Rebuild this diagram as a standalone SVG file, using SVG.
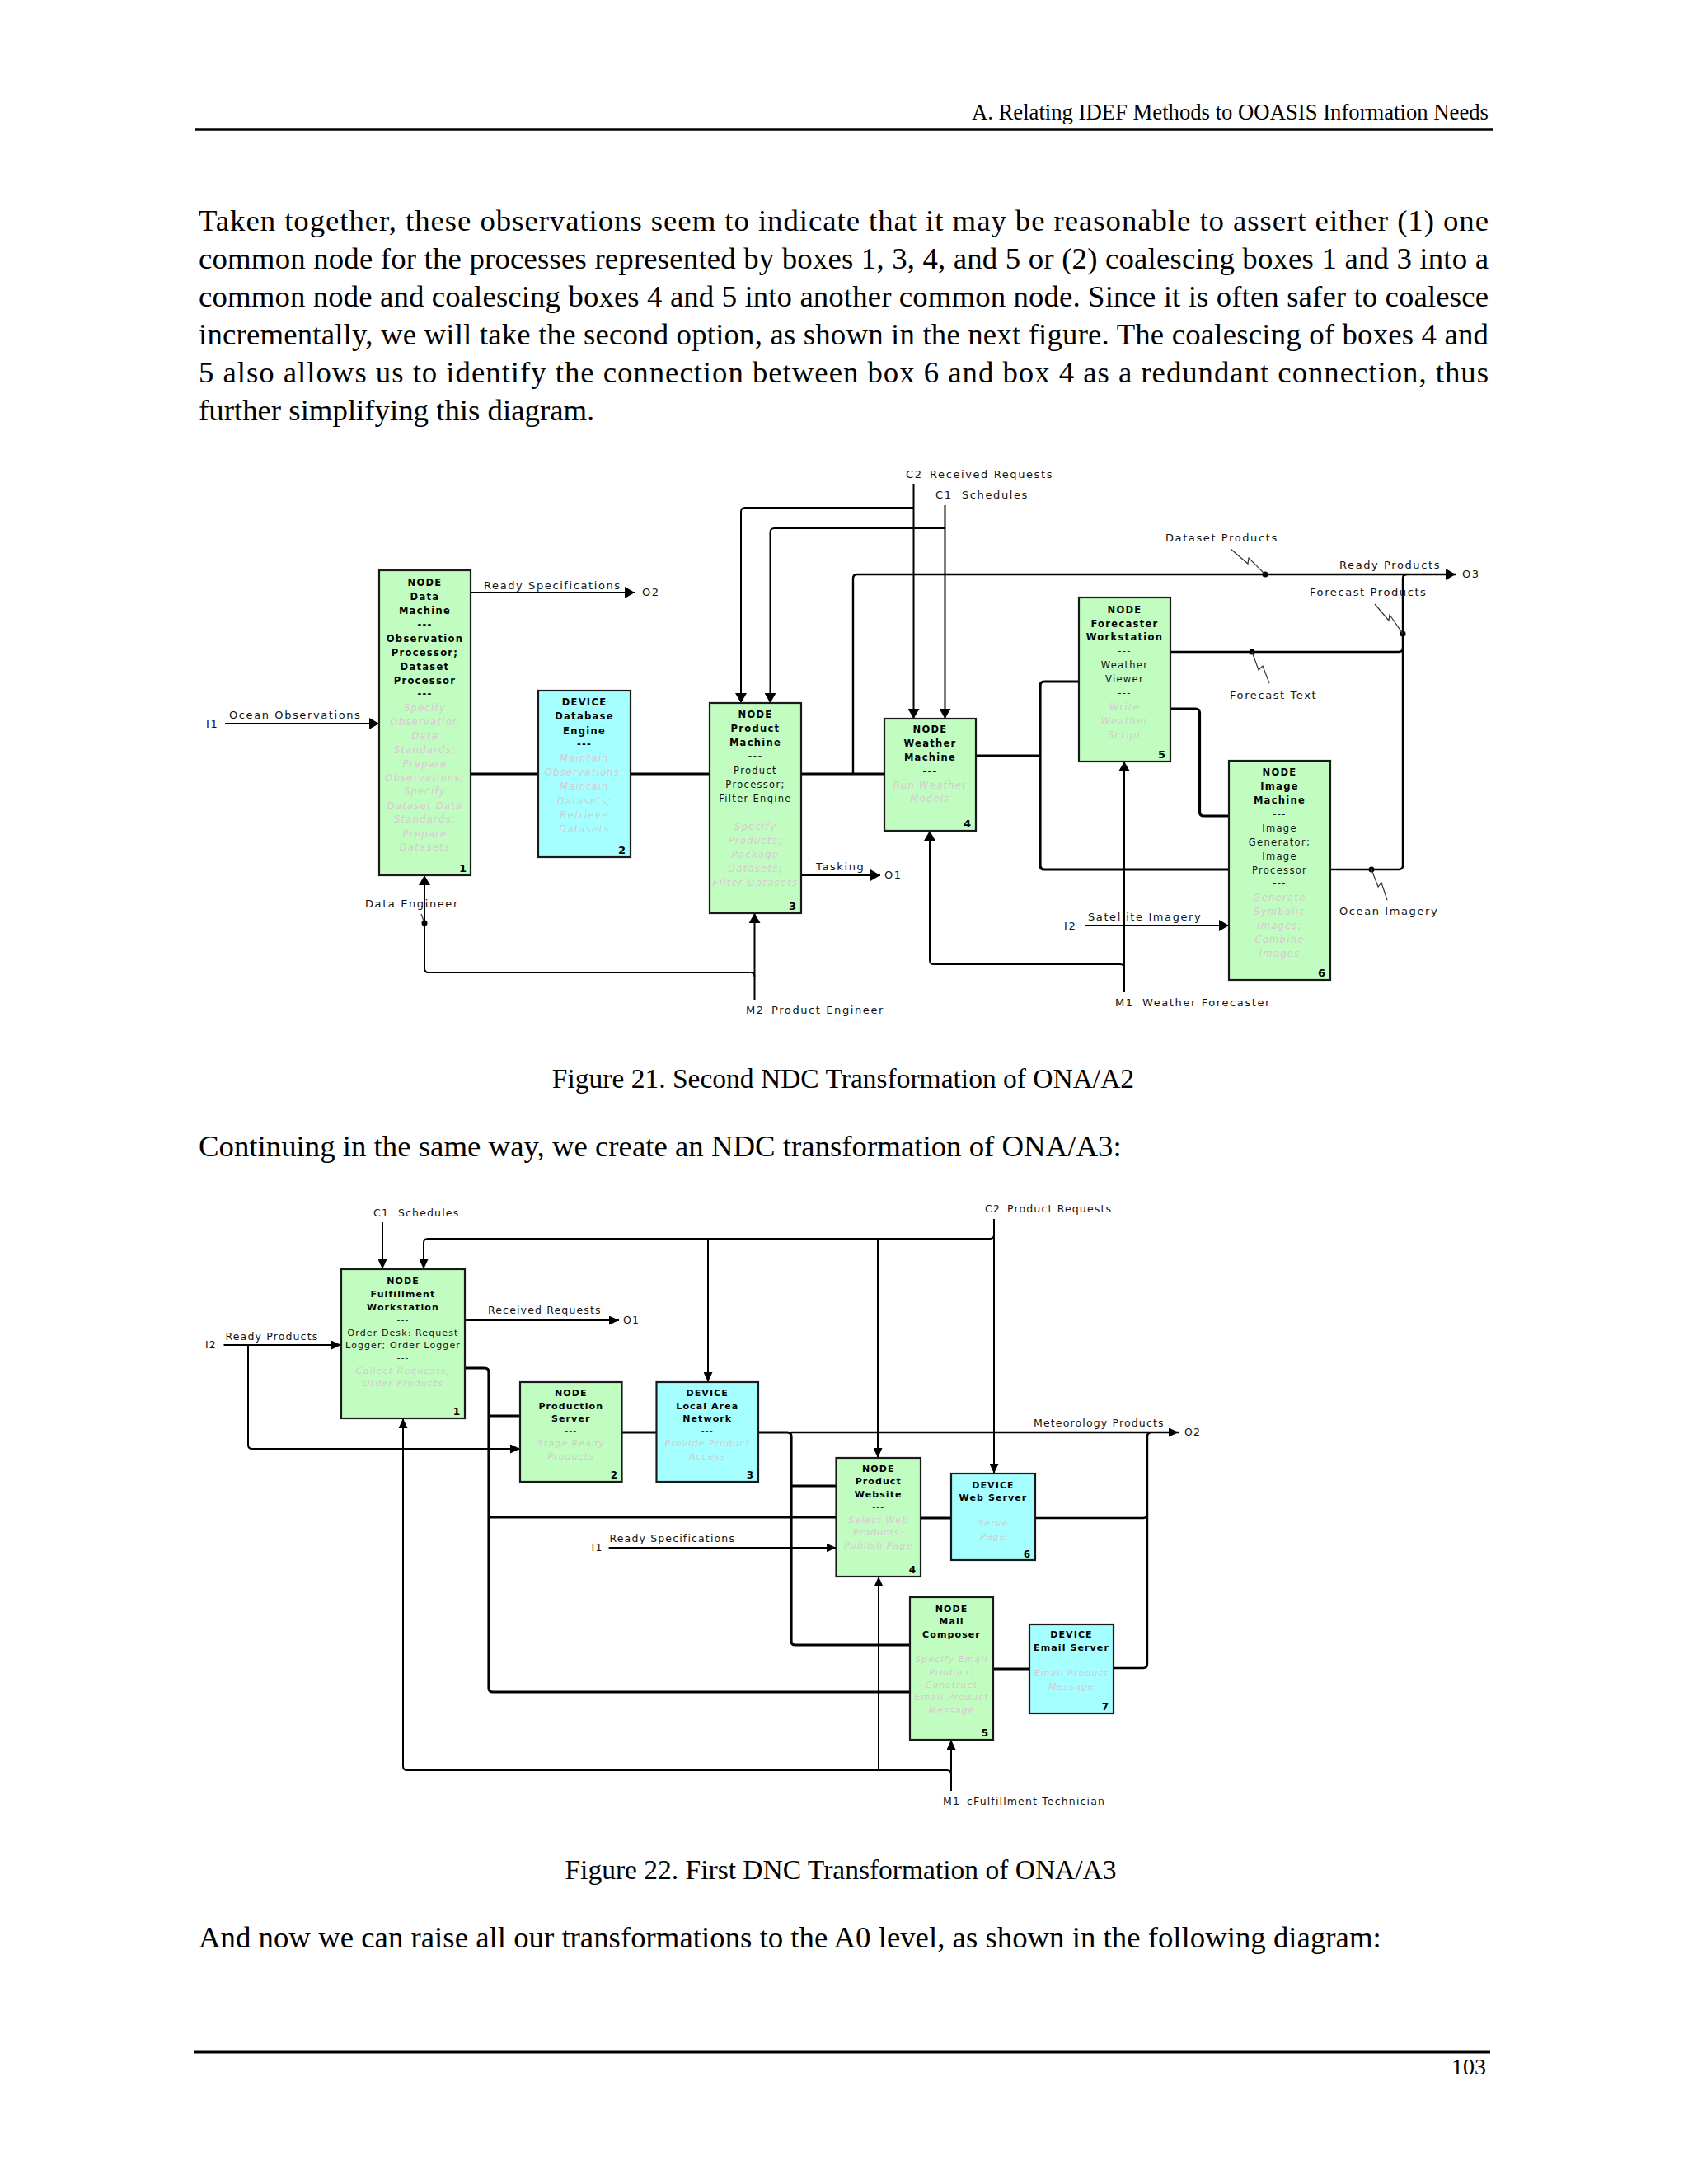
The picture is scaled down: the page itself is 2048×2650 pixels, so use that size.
<svg xmlns="http://www.w3.org/2000/svg" width="2048" height="2650" viewBox="0 0 2048 2650">
<defs>
<marker id="ah" viewBox="0 0 12 14" refX="12" refY="7" markerWidth="12" markerHeight="14" markerUnits="userSpaceOnUse" orient="auto"><path d="M0,0 L12,7 L0,14 z" fill="#000"/></marker>
<marker id="ah2" viewBox="0 0 12 11" refX="12" refY="5.5" markerWidth="12" markerHeight="11" markerUnits="userSpaceOnUse" orient="auto"><path d="M0,0 L12,5.5 L0,11 z" fill="#000"/></marker>
</defs>
<style>
.pg{font-family:"Liberation Serif","Times New Roman",serif;fill:#000}
.body{font-size:36.8px}
.hdr{font-size:26.7px}
.cap{font-size:33.5px;text-anchor:middle}
.rule{stroke:#000;stroke-width:3.5}
.box{stroke:#1a1a1a;stroke-width:2.2}
.node{fill:#c1fdc1}
.dev{fill:#a6ffff}
.t{font-family:"DejaVu Sans",Verdana,sans-serif;text-anchor:middle}
.n21{font-size:11.5px;letter-spacing:1.3px}
.n22{font-size:11px;letter-spacing:1.1px}
.b{font-weight:bold;fill:#000}
.r{fill:#111}
.f{fill:#d8c8d2;font-style:italic}
.num{font-family:"DejaVu Sans",Verdana,sans-serif;font-weight:bold;font-size:13px;text-anchor:end;fill:#000}
.lbl{font-family:"DejaVu Sans",Verdana,sans-serif;font-size:13px;letter-spacing:1.6px;fill:#111}
.lbl2{font-family:"DejaVu Sans",Verdana,sans-serif;font-size:12.5px;letter-spacing:1.15px;fill:#111}
.c{fill:none;stroke:#000;stroke-width:2}
.cm{fill:none;stroke:#000;stroke-width:2.4}
.ck{fill:none;stroke:#000;stroke-width:3.2}
.a{marker-end:url(#ah)}
.a2{marker-end:url(#ah2)}
.sq{fill:none;stroke:#333;stroke-width:1.2}
.dot{fill:#000}
</style>
<rect width="2048" height="2650" fill="#fff"/>

<g id="page">
<text class="pg hdr" x="1806" y="145" text-anchor="end">A. Relating IDEF Methods to OOASIS Information Needs</text>
<line class="rule" x1="236" y1="157" x2="1812" y2="157"/>
<text class="pg body" x="241" y="280" textLength="1565" lengthAdjust="spacing">Taken together, these observations seem to indicate that it may be reasonable to assert either (1) one</text>
<text class="pg body" x="241" y="326" textLength="1565" lengthAdjust="spacing">common node for the processes represented by boxes 1, 3, 4, and 5 or (2) coalescing boxes 1 and 3 into a</text>
<text class="pg body" x="241" y="372" textLength="1565" lengthAdjust="spacing">common node and coalescing boxes 4 and 5 into another common node. Since it is often safer to coalesce</text>
<text class="pg body" x="241" y="418" textLength="1565" lengthAdjust="spacing">incrementally, we will take the second option, as shown in the next figure. The coalescing of boxes 4 and</text>
<text class="pg body" x="241" y="464" textLength="1565" lengthAdjust="spacing">5 also allows us to identify the connection between box 6 and box 4 as a redundant connection, thus</text>
<text class="pg body" x="241" y="510">further simplifying this diagram.</text>
<text class="pg cap" x="1023" y="1320">Figure 21. Second NDC Transformation of ONA/A2</text>
<text class="pg body" x="241" y="1403">Continuing in the same way, we create an NDC transformation of ONA/A3:</text>
<text class="pg cap" x="1020" y="2280">Figure 22. First DNC Transformation of ONA/A3</text>
<text class="pg body" x="241" y="2363">And now we can raise all our transformations to the A0 level, as shown in the following diagram:</text>
<line class="rule" x1="235" y1="2490" x2="1808" y2="2490" style="stroke-width:3"/>
<text class="pg hdr" x="1803" y="2517" text-anchor="end" style="font-size:28px">103</text>
</g>

<!-- ================= FIGURE 21 ================= -->
<g id="fig21-connectors">
<path class="c a" d="M273,878 H460"/>
<path class="c a" d="M571,719 H770"/>
<path class="c a" d="M1108.5,587 V872"/>
<path class="c a" d="M1108.5,616 H904 Q899,616 899,621 V853"/>
<path class="c a" d="M1146.5,613 V872"/>
<path class="c a" d="M1146.5,641 H939.5 Q934.5,641 934.5,646 V853"/>
<path class="c a" d="M972,1062 H1068"/>
<path class="c a" d="M915.5,1213 V1108"/>
<path class="c a" d="M910.5,1180 H520 Q515,1180 515,1175 V1062"/>
<path class="c" d="M915.5,1185 Q915.5,1180 910.5,1180"/>
<path class="c a" d="M1364,1204 V924"/>
<path class="c a" d="M1359,1170 H1133 Q1128,1170 1128,1165 V1008"/>
<path class="c" d="M1364,1175 Q1364,1170 1359,1170"/>
<path class="c a" d="M1317,1123 H1491"/>
<path class="cm a" d="M1035,939 V702 Q1035,697 1040,697 H1766"/>
<path class="cm" d="M1614,1055 H1697 Q1702,1055 1702,1050 V702 Q1702,697 1707,697"/>
<path class="cm" d="M1420,791 H1697 Q1702,791 1702,786"/>
<path class="ck" d="M571,939 H653 M765,939 H861 M972,939 H1073"/>
<path class="ck" d="M1184,917 H1262 M1262,917 V832 Q1262,827 1267,827 H1309 M1262,917 V1050 Q1262,1055 1267,1055 H1491"/>
<path class="ck" d="M1420,860 H1450.5 Q1455.5,860 1455.5,865 V985 Q1455.5,990 1460.5,990 H1491"/>
<circle class="dot" cx="1535" cy="697" r="3.5"/>
<circle class="dot" cx="1702" cy="769" r="3.5"/>
<circle class="dot" cx="1519" cy="791" r="3.5"/>
<circle class="dot" cx="1664" cy="1055" r="3.5"/>
<circle class="dot" cx="515" cy="1120" r="3.5"/>
<path class="sq" d="M1493,666 L1514,684 L1515,677 L1535,697"/>
<path class="sq" d="M1668,733 L1685,753 L1686,746 L1702,769"/>
<path class="sq" d="M1519,791 L1527,813 L1532,808 L1540,829"/>
<path class="sq" d="M1664,1055 L1672,1076 L1676,1071 L1683,1092"/>
<path class="sq" d="M511,1109 L515,1120"/>
</g>

<g id="fig21-labels">
<text class="lbl" x="1099" y="580">C2</text>
<text class="lbl" x="1128" y="580">Received Requests</text>
<text class="lbl" x="1135" y="605">C1</text>
<text class="lbl" x="1167" y="605">Schedules</text>
<text class="lbl" x="1414" y="657">Dataset Products</text>
<text class="lbl" x="1625" y="690">Ready Products</text>
<text class="lbl" x="1774" y="701">O3</text>
<text class="lbl" x="1589" y="723">Forecast Products</text>
<text class="lbl" x="587" y="715">Ready Specifications</text>
<text class="lbl" x="779" y="723">O2</text>
<text class="lbl" x="1492" y="848">Forecast Text</text>
<text class="lbl" x="250" y="883">I1</text>
<text class="lbl" x="278" y="872">Ocean Observations</text>
<text class="lbl" x="990" y="1056">Tasking</text>
<text class="lbl" x="1073" y="1066">O1</text>
<text class="lbl" x="443" y="1101">Data Engineer</text>
<text class="lbl" x="1625" y="1110">Ocean Imagery</text>
<text class="lbl" x="1320" y="1117">Satellite Imagery</text>
<text class="lbl" x="1291" y="1128">I2</text>
<text class="lbl" x="905" y="1230">M2</text>
<text class="lbl" x="936" y="1230">Product Engineer</text>
<text class="lbl" x="1353" y="1221">M1</text>
<text class="lbl" x="1386" y="1221">Weather Forecaster</text>
</g>

<g id="f21-box1">
<rect class="box node" x="460" y="692" width="111" height="370"/>
<g class="t n21">
<text class="b" x="515.5" y="711">NODE</text>
<text class="b" x="515.5" y="728">Data</text>
<text class="b" x="515.5" y="745">Machine</text>
<text class="b" x="515.5" y="762">---</text>
<text class="b" x="515.5" y="779">Observation</text>
<text class="b" x="515.5" y="796">Processor;</text>
<text class="b" x="515.5" y="813">Dataset</text>
<text class="b" x="515.5" y="830">Processor</text>
<text class="b" x="515.5" y="846">---</text>
<text class="f" x="515.5" y="863">Specify</text>
<text class="f" x="515.5" y="880">Observation</text>
<text class="f" x="515.5" y="897">Data</text>
<text class="f" x="515.5" y="914">Standards;</text>
<text class="f" x="515.5" y="931">Prepare</text>
<text class="f" x="515.5" y="948">Observations;</text>
<text class="f" x="515.5" y="964">Specify</text>
<text class="f" x="515.5" y="982">Dataset Data</text>
<text class="f" x="515.5" y="998">Standards;</text>
<text class="f" x="515.5" y="1016">Prepare</text>
<text class="f" x="515.5" y="1032">Datasets</text>
</g>
<text class="num" x="566" y="1058">1</text>
</g>

<g id="f21-box2">
<rect class="box dev" x="653" y="838" width="112" height="202"/>
<g class="t n21">
<text class="b" x="709" y="856">DEVICE</text>
<text class="b" x="709" y="873">Database</text>
<text class="b" x="709" y="891">Engine</text>
<text class="b" x="709" y="907">---</text>
<text class="f" x="709" y="924">Maintain</text>
<text class="f" x="709" y="941">Observations;</text>
<text class="f" x="709" y="958">Maintain</text>
<text class="f" x="709" y="976">Datasets;</text>
<text class="f" x="709" y="993">Retrieve</text>
<text class="f" x="709" y="1010">Datasets</text>
</g>
<text class="num" x="759" y="1036">2</text>
</g>

<g id="f21-box3">
<rect class="box node" x="861" y="853" width="111" height="255"/>
<g class="t n21">
<text class="b" x="916.5" y="871">NODE</text>
<text class="b" x="916.5" y="888">Product</text>
<text class="b" x="916.5" y="905">Machine</text>
<text class="b" x="916.5" y="922">---</text>
<text class="r" x="916.5" y="939">Product</text>
<text class="r" x="916.5" y="956">Processor;</text>
<text class="r" x="916.5" y="973">Filter Engine</text>
<text class="r" x="916.5" y="990">---</text>
<text class="f" x="916.5" y="1007">Specify</text>
<text class="f" x="916.5" y="1024">Products;</text>
<text class="f" x="916.5" y="1041">Package</text>
<text class="f" x="916.5" y="1058">Datasets;</text>
<text class="f" x="916.5" y="1075">Filter Datasets</text>
</g>
<text class="num" x="966" y="1104">3</text>
</g>

<g id="f21-box4">
<rect class="box node" x="1073" y="872" width="111" height="136"/>
<g class="t n21">
<text class="b" x="1128.5" y="889">NODE</text>
<text class="b" x="1128.5" y="906">Weather</text>
<text class="b" x="1128.5" y="923">Machine</text>
<text class="b" x="1128.5" y="940">---</text>
<text class="f" x="1128.5" y="957">Run Weather</text>
<text class="f" x="1128.5" y="973">Models</text>
</g>
<text class="num" x="1178" y="1004">4</text>
</g>

<g id="f21-box5">
<rect class="box node" x="1309" y="725" width="111" height="199"/>
<g class="t n21">
<text class="b" x="1364.5" y="744">NODE</text>
<text class="b" x="1364.5" y="761">Forecaster</text>
<text class="b" x="1364.5" y="777">Workstation</text>
<text class="r" x="1364.5" y="794">---</text>
<text class="r" x="1364.5" y="811">Weather</text>
<text class="r" x="1364.5" y="828">Viewer</text>
<text class="r" x="1364.5" y="845">---</text>
<text class="f" x="1364.5" y="862">Write</text>
<text class="f" x="1364.5" y="879">Weather</text>
<text class="f" x="1364.5" y="896">Script</text>
</g>
<text class="num" x="1414" y="920">5</text>
</g>

<g id="f21-box6">
<rect class="box node" x="1491" y="923" width="123" height="266"/>
<g class="t n21">
<text class="b" x="1552.5" y="941">NODE</text>
<text class="b" x="1552.5" y="958">Image</text>
<text class="b" x="1552.5" y="975">Machine</text>
<text class="r" x="1552.5" y="992">---</text>
<text class="r" x="1552.5" y="1009">Image</text>
<text class="r" x="1552.5" y="1026">Generator;</text>
<text class="r" x="1552.5" y="1043">Image</text>
<text class="r" x="1552.5" y="1060">Processor</text>
<text class="r" x="1552.5" y="1076">---</text>
<text class="f" x="1552.5" y="1093">Generate</text>
<text class="f" x="1552.5" y="1110">Symbolic</text>
<text class="f" x="1552.5" y="1127">Images;</text>
<text class="f" x="1552.5" y="1144">Combine</text>
<text class="f" x="1552.5" y="1161">Images</text>
</g>
<text class="num" x="1608" y="1185">6</text>
</g>

<!-- ================= FIGURE 22 ================= -->
<g id="fig22-connectors">
<path class="c a2" d="M464,1483 V1540"/>
<path class="c a2" d="M1206,1479 V1788"/>
<path class="c a2" d="M1206,1498 Q1206,1503 1201,1503 H519 Q514,1503 514,1508 V1540"/>
<path class="c a2" d="M859,1503 V1677"/>
<path class="c a2" d="M1065,1503 V1769"/>
<path class="c a2" d="M564,1602 H751"/>
<path class="c a2" d="M271.5,1632 H414"/>
<path class="c a2" d="M301,1632 V1753 Q301,1758 306,1758 H631"/>
<path class="c a2" d="M738.6,1878 H1014.5"/>
<path class="c a2" d="M1154,2173 V2111"/>
<path class="c a2" d="M1154,2153 Q1154,2148 1149,2148 H494 Q489,2148 489,2143 V1721"/>
<path class="c a2" d="M1066,2148 V1913"/>
<path class="cm a2" d="M960,1738 H1430"/>
<path class="cm" d="M1257,1842 H1387 Q1392,1842 1392,1837"/>
<path class="cm" d="M1351,2024 H1387 Q1392,2024 1392,2019 V1743 Q1392,1738 1397,1738"/>
<path class="ck" d="M564,1660 H588 Q593,1660 593,1665 V2048 Q593,2053 598,2053 H1104 M593,1718 H631 M593,1841 H1014.5"/>
<path class="ck" d="M754.5,1738 H796.5"/>
<path class="ck" d="M920,1738 H955 Q960,1738 960,1743 V1991 Q960,1996 965,1996 H1104 M960,1803 H1014.5"/>
<path class="ck" d="M1117,1842 H1154"/>
<path class="ck" d="M1205,2025 H1249"/>
</g>

<g id="fig22-labels">
<text class="lbl2" x="453" y="1476">C1</text>
<text class="lbl2" x="483" y="1476">Schedules</text>
<text class="lbl2" x="1195" y="1471">C2</text>
<text class="lbl2" x="1222" y="1471">Product Requests</text>
<text class="lbl2" x="592" y="1594">Received Requests</text>
<text class="lbl2" x="756" y="1606">O1</text>
<text class="lbl2" x="249" y="1636">I2</text>
<text class="lbl2" x="273.5" y="1626">Ready Products</text>
<text class="lbl2" x="1254" y="1731">Meteorology Products</text>
<text class="lbl2" x="1437" y="1742">O2</text>
<text class="lbl2" x="739.5" y="1871">Ready Specifications</text>
<text class="lbl2" x="717.6" y="1882">I1</text>
<text class="lbl2" x="1144" y="2190">M1</text>
<text class="lbl2" x="1173" y="2190">cFulfillment Technician</text>
</g>

<g id="f22-box1">
<rect class="box node" x="414" y="1540" width="150" height="181"/>
<g class="t n22">
<text class="b" x="489" y="1558">NODE</text>
<text class="b" x="489" y="1574">Fulfillment</text>
<text class="b" x="489" y="1590">Workstation</text>
<text class="r" x="489" y="1605">---</text>
<text class="r" x="489" y="1621">Order Desk: Request</text>
<text class="r" x="489" y="1636">Logger; Order Logger</text>
<text class="r" x="489" y="1651">---</text>
<text class="f" x="489" y="1667">Collect Requests;</text>
<text class="f" x="489" y="1682">Order Products</text>
</g>
<text class="num" x="558" y="1717" style="font-size:12px">1</text>
</g>

<g id="f22-box2">
<rect class="box node" x="631" y="1677" width="123.5" height="121"/>
<g class="t n22">
<text class="b" x="692.75" y="1694">NODE</text>
<text class="b" x="692.75" y="1710">Production</text>
<text class="b" x="692.75" y="1725">Server</text>
<text class="r" x="692.75" y="1739">---</text>
<text class="f" x="692.75" y="1755">Stage Ready</text>
<text class="f" x="692.75" y="1771">Products</text>
</g>
<text class="num" x="749" y="1794" style="font-size:12px">2</text>
</g>

<g id="f22-box3">
<rect class="box dev" x="796.5" y="1677" width="123.5" height="121"/>
<g class="t n22">
<text class="b" x="858.25" y="1694">DEVICE</text>
<text class="b" x="858.25" y="1710">Local Area</text>
<text class="b" x="858.25" y="1725">Network</text>
<text class="r" x="858.25" y="1739">---</text>
<text class="f" x="858.25" y="1755">Provide Product</text>
<text class="f" x="858.25" y="1771">Access</text>
</g>
<text class="num" x="914" y="1794" style="font-size:12px">3</text>
</g>

<g id="f22-box4">
<rect class="box node" x="1014.5" y="1769" width="102.5" height="144"/>
<g class="t n22">
<text class="b" x="1065.75" y="1786">NODE</text>
<text class="b" x="1065.75" y="1801">Product</text>
<text class="b" x="1065.75" y="1817">Website</text>
<text class="r" x="1065.75" y="1832">---</text>
<text class="f" x="1065.75" y="1848">Select Web</text>
<text class="f" x="1065.75" y="1863">Products;</text>
<text class="f" x="1065.75" y="1879">Publish Page</text>
</g>
<text class="num" x="1111" y="1909" style="font-size:12px">4</text>
</g>

<g id="f22-box6">
<rect class="box dev" x="1154" y="1788" width="102" height="105"/>
<g class="t n22">
<text class="b" x="1205" y="1806">DEVICE</text>
<text class="b" x="1205" y="1821">Web Server</text>
<text class="r" x="1205" y="1836">---</text>
<text class="f" x="1205" y="1852">Serve</text>
<text class="f" x="1205" y="1868">Page</text>
</g>
<text class="num" x="1250" y="1890" style="font-size:12px">6</text>
</g>

<g id="f22-box5">
<rect class="box node" x="1104" y="1938" width="101" height="173"/>
<g class="t n22">
<text class="b" x="1154.5" y="1956">NODE</text>
<text class="b" x="1154.5" y="1971">Mail</text>
<text class="b" x="1154.5" y="1987">Composer</text>
<text class="r" x="1154.5" y="2001">---</text>
<text class="f" x="1154.5" y="2017">Specify Email</text>
<text class="f" x="1154.5" y="2033">Product;</text>
<text class="f" x="1154.5" y="2048">Construct</text>
<text class="f" x="1154.5" y="2063">Email Product</text>
<text class="f" x="1154.5" y="2079">Message</text>
</g>
<text class="num" x="1199" y="2107" style="font-size:12px">5</text>
</g>

<g id="f22-box7">
<rect class="box dev" x="1249" y="1971" width="102" height="108"/>
<g class="t n22">
<text class="b" x="1300" y="1987">DEVICE</text>
<text class="b" x="1300" y="2003">Email Server</text>
<text class="r" x="1300" y="2018">---</text>
<text class="f" x="1300" y="2034">Email Product</text>
<text class="f" x="1300" y="2050">Message</text>
</g>
<text class="num" x="1345" y="2075" style="font-size:12px">7</text>
</g>
</svg>
